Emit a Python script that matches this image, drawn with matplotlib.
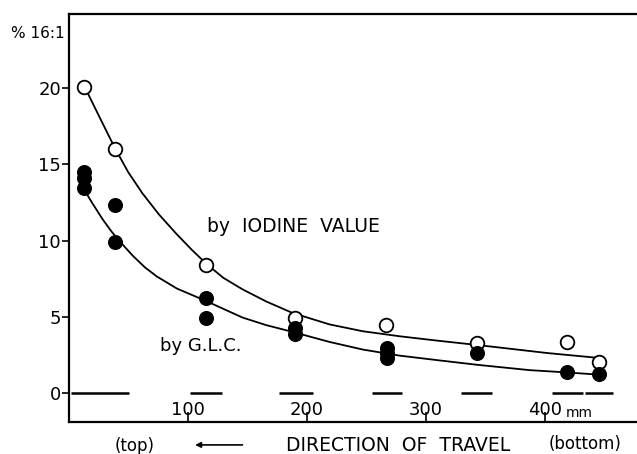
import matplotlib
matplotlib.use("Agg")
import matplotlib.pyplot as plt

# open circles - by iodine value
iod_x = [13.4, 38.7, 115, 190, 266, 343, 418, 445]
iod_y = [20.1, 16.0, 8.4, 4.9, 4.45, 3.3, 3.35, 2.05]

# filled circles - by G.L.C.
glc_x = [13.4, 13.4, 13.4, 38.7, 38.7, 115, 115, 190, 190, 267, 267, 267, 343, 418, 445]
glc_y = [14.5, 14.1, 13.45, 12.3, 9.9, 6.2, 4.9, 4.25, 3.9, 2.95, 2.6, 2.3, 2.6, 1.4, 1.25]

# hand drawn curves
iod_cx = [13.4, 26, 38.7, 50, 62, 76, 91, 104, 116, 130, 146, 166, 188, 219, 247, 278, 310, 343, 373, 402, 445]
iod_cy = [20.1, 18.1, 16.1, 14.5, 13.1, 11.7, 10.4, 9.35, 8.45, 7.55, 6.8, 6.0, 5.25, 4.5, 4.05, 3.72, 3.43, 3.15, 2.88, 2.62, 2.3]
glc_cx = [13.4, 20, 28.6, 36, 42.9, 54, 64, 74, 91, 115, 146, 166, 186, 219, 247, 278, 310, 343, 387, 418, 446]
glc_cy = [13.3, 12.45, 11.4, 10.6, 9.95, 9.0, 8.25, 7.65, 6.85, 6.05, 4.95, 4.45, 4.05, 3.35, 2.85, 2.45, 2.15, 1.85, 1.5, 1.35, 1.2]

# sample sections drawn along zero
seg_start = [2.5, 101.7, 177, 254.6, 329, 406, 433]
seg_end = [50.4, 128.6, 205, 280, 355, 432, 457]

xticks = [100, 200, 300, 400]
yticks = [0, 5, 10, 15, 20]

plt.rcParams['font.family'] = ['DejaVu Sans']

fig = plt.figure(figsize=(6.37, 4.54), dpi=100)
ax = fig.add_axes([0.109, 0.0705, 0.891, 0.8985])

ax.plot(iod_cx, iod_cy, color='black', lw=1.3, solid_joinstyle='round')
ax.plot(glc_cx, glc_cy, color='black', lw=1.3, solid_joinstyle='round')
ax.plot(iod_x, iod_y, 'o', ms=9.8, mfc='white', mec='black', mew=1.3, zorder=3)
ax.plot(glc_x, glc_y, 'o', ms=9.8, mfc='black', mec='black', zorder=3)
ax.hlines([0] * len(seg_start), seg_start, seg_end, color='black', lw=1.8)

ax.set_xlim(0.8, 477)
ax.set_ylim(-1.9, 24.85)

ax.spines['right'].set_visible(False)
for s in ['left', 'top', 'bottom']:
    ax.spines[s].set_linewidth(1.6)

ax.set_yticks(yticks)
ax.set_yticklabels([str(t) for t in yticks], fontsize=13)
ax.tick_params(axis='y', direction='out', length=5, width=1.2, pad=1)

ax.set_xticks(xticks)
ax.set_xticklabels(['100', '200', '300', '400'], fontsize=13)
ax.tick_params(axis='x', direction='in', length=7, width=1.2, pad=-15)
ax.text(417, -1.3, 'mm', fontsize=10, va='center', ha='left')

ax.text(189, 10.9, 'by  IODINE  VALUE', fontsize=13.5, ha='center', va='center')
ax.text(111, 3.1, 'by G.L.C.', fontsize=13, ha='center', va='center')

fig.text(0.018, 0.927, '% 16:1', fontsize=11, ha='left', va='center')

fig.text(0.212, 0.018, '(top)', fontsize=12, ha='center', va='center')
ax.annotate('', xy=(0.302, 0.02), xytext=(0.385, 0.02), xycoords='figure fraction',
            arrowprops=dict(arrowstyle='-|>', color='black', lw=1.2, mutation_scale=8))
fig.text(0.625, 0.018, 'DIRECTION  OF  TRAVEL', fontsize=13.5, ha='center', va='center')
fig.text(0.918, 0.022, '(bottom)', fontsize=12, ha='center', va='center')

plt.savefig('out.png', dpi=100)
